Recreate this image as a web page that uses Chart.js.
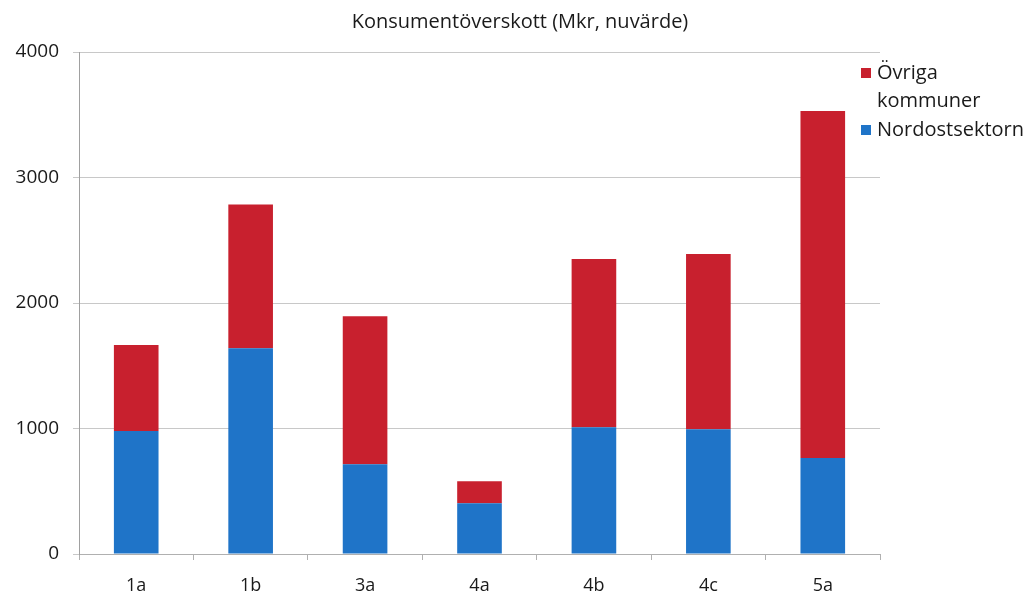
<!DOCTYPE html>
<html>
<head>
<meta charset="utf-8">
<script src="https://cdn.jsdelivr.net/npm/chart.js@4"></script>
<style>
  html, body { margin: 0; padding: 0; background: #fff; }
  #wrap { width: 1025px; height: 599px; }
</style>
</head>
<body>
<div id="wrap"><canvas id="chart"></canvas></div>
<script>
// scenarios along the x axis
const scenarios = ['1a', '1b', '3a', '4a', '4b', '4c', '5a'];
// Mkr per scenario, bottom segment and top segment
const nordost = [980, 1640, 715, 405, 1010, 995, 765];
const ovriga = [685, 1145, 1180, 175, 1340, 1395, 2765];
const yTicks = [0, 1000, 2000, 3000, 4000];
const titleText = 'Konsumentöverskott (Mkr, nuvärde)';

const font = '"Open Sans", "Noto Sans", sans-serif';

// title and legend drawn by hand: title sits off-centre, first legend label wraps
const sideLegend = {
  id: 'sideLegend',
  afterDraw(chart) {
    const ctx = chart.ctx;
    ctx.save();
    ctx.fillStyle = '#1a1a1a';
    ctx.font = '20px ' + font;
    ctx.textAlign = 'center';
    ctx.textBaseline = 'middle';
    ctx.fillText(titleText, 520, 22);

    const items = [
      { color: chart.data.datasets[1].backgroundColor, lines: ['Övriga', 'kommuner'] },
      { color: chart.data.datasets[0].backgroundColor, lines: [chart.data.datasets[0].label] }
    ];
    let y = 73;
    ctx.font = '20px ' + font;
    ctx.textAlign = 'left';
    items.forEach(it => {
      ctx.fillStyle = it.color;
      ctx.fillRect(861, y - 5, 10, 10);
      ctx.fillStyle = '#1a1a1a';
      it.lines.forEach(l => {
        ctx.fillText(l, 877, y);
        y += 28.5;
      });
    });
    ctx.restore();
  }
};

new Chart(document.getElementById('chart'), {
  type: 'bar',
  data: {
    labels: scenarios,
    datasets: [{
      label: 'Nordostsektorn',
      data: nordost,
      backgroundColor: '#1f74c8',
      barPercentage: 0.39,
      categoryPercentage: 1
    }, {
      label: 'Övriga kommuner',
      data: ovriga,
      backgroundColor: '#c8202e',
      barPercentage: 0.39,
      categoryPercentage: 1
    }]
  },
  options: {
    responsive: true,
    maintainAspectRatio: false,
    animation: false,
    layout: { padding: { left: 0, right: 145, top: 52, bottom: 0 } },
    plugins: {
      legend: { display: false },
      tooltip: { enabled: false },
      title: { display: false }
    },
    scales: {
      x: {
        stacked: true,
        offset: true,
        grid: { offset: true, drawOnChartArea: false, drawTicks: true, tickLength: 6, color: '#b0b0b0' },
        border: { color: '#b0b0b0' },
        ticks: { color: '#1a1a1a', padding: 15, font: { family: font, size: 18 } },
        afterFit(s) { s.height = 45; }
      },
      y: {
        stacked: true,
        min: 0,
        max: 4000,
        afterBuildTicks(s) { s.ticks = yTicks.map(v => ({ value: v })); },
        grid: { color: '#c8c8c8', tickLength: 6 },
        border: { color: '#a0a0a0' },
        ticks: {
          color: '#1a1a1a',
          padding: 14,
          font: { family: font, size: 19 },
          callback: v => String(v)
        },
        afterFit(s) { s.width = 79; }
      }
    }
  },
  plugins: [sideLegend]
});
</script>
</body>
</html>
